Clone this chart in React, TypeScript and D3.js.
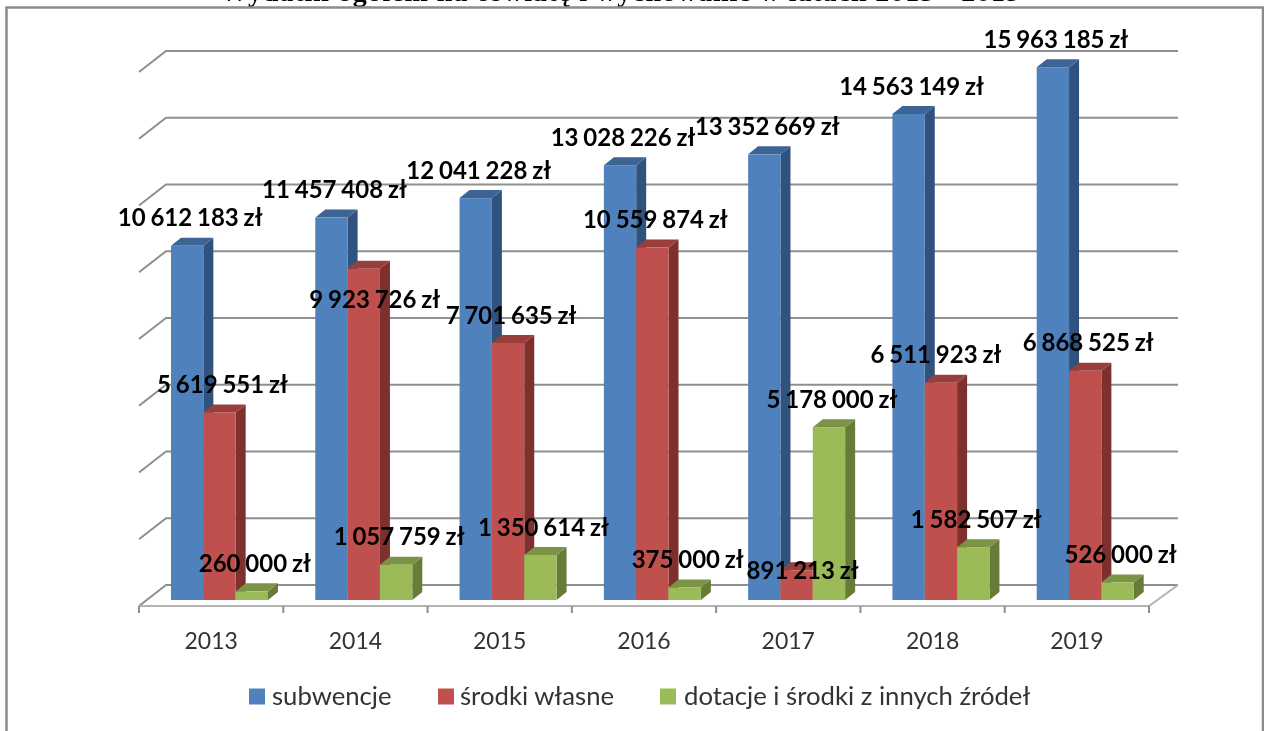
import React from "react"
import * as d3 from "d3"

const years = ["2013", "2014", "2015", "2016", "2017", "2018", "2019"]
const subwencje = [10612183, 11457408, 12041228, 13028226, 13352669, 14563149, 15963185]
const srodkiWlasne = [5619551, 9923726, 7701635, 10559874, 891213, 6511923, 6868525]
const dotacje = [260000, 1057759, 1350614, 375000, 5178000, 1582507, 526000]
const seriesNames = ["subwencje", "środki własne", "dotacje i środki z innych źródeł"]
const gridTicks = [0, 2000000, 4000000, 6000000, 8000000, 10000000, 12000000, 14000000, 16000000]

const colors = [
  { front: "#4f81bd", side: "#31527f", top: "#3c6595" },
  { front: "#c0504d", side: "#7d302e", top: "#983e3b" },
  { front: "#9bbb59", side: "#677c38", top: "#7a9444" },
]

const W = 1264
const H = 731
// the 3d look: how far the back of a bar sits from the front
const depthX = 10
const depthY = 8
const wallX = 27
const wallY = 21

const LABEL_FONT = "Lato, sans-serif"

// labels that were moved by hand in the original chart [dx, dy], key = year index - series index
const movedLabels: Record<string, [number, number]> = {
  "1-1": [11, 31],
  "4-1": [6, 0],
  "5-1": [-5, -28],
}

const money = d3.formatLocale({
  decimal: ",",
  thousands: " ",
  grouping: [3],
  currency: ["", " zł"],
}).format("$,d")

const xBand = d3.scaleBand<string>().domain(years).range([139, 1149])
const xBar = d3.scaleBand<number>().domain([0, 1, 2]).range([32, 129])
const yBar = d3.scaleLinear().domain([0, 16000000]).range([600, 66])
const yGrid = d3.scaleLinear().domain([0, 16000000]).range([585, 51])

const legendItems = [
  { square: 249, text: 272 },
  { square: 438, text: 460 },
  { square: 660, text: 684 },
]

function App() {
  const series = [subwencje, srodkiWlasne, dotacje]
  const bw = xBar.bandwidth()

  return (
    <svg
      width={W}
      height={H}
      style={{ position: "absolute", left: 0, top: 0, background: "#fff", filter: "blur(0.45px)" }}
    >
      {/* title, cut off by the top edge of the scan */}
      <text
        x={220}
        y={1}
        textLength={800}
        fontFamily="'Liberation Serif', serif"
        fontWeight="bold"
        fontSize={28}
        fill="#000"
      >
        Wydatki ogółem na oświatę i wychowanie w latach 2013 - 2019
      </text>

      <path d={`M6.5,${H} V7.5 H1263 V${H}`} fill="none" stroke="#8c8c8c" strokeWidth={2.5} />

      {/* grid */}
      {gridTicks.map((t) => (
        <path
          key={t}
          d={`M${139},${yGrid(t) + wallY} L${139 + wallX},${yGrid(t)} H1178`}
          fill="none"
          stroke="#8f8f8f"
          strokeWidth={2}
        />
      ))}

      {/* floor */}
      <path d={`M139,${yGrid(0) + wallY} H1149 L1178,${yGrid(0)}`} fill="none" stroke="#b3b3b3" strokeWidth={2} />
      {d3.range(years.length + 1).map((i) => {
        const x = 139 + i * xBand.step()
        return <line key={i} x1={x} x2={x} y1={606} y2={613} stroke="#8f8f8f" strokeWidth={2} />
      })}
      {years.map((y) => (
        <text
          key={y}
          x={xBand(y)! + xBand.bandwidth() / 2}
          y={649}
          textAnchor="middle"
          fontFamily={LABEL_FONT}
          fontSize={23}
          fill="#333"
        >
          {y}
        </text>
      ))}

      {/* bars */}
      {years.map((year, i) => (
        <g key={year}>
          {series.map((vals, s) => {
            const x0 = xBand(year)! + xBar(s)!
            const x1 = x0 + bw
            const top = yBar(vals[i])
            const c = colors[s]
            return (
              <g key={s}>
                <path
                  d={`M${x1},${top} l${depthX},${-depthY} V${600 - depthY} L${x1},600 Z`}
                  fill={c.side}
                />
                <path
                  d={`M${x0},${top} l${depthX},${-depthY} H${x1 + depthX} L${x1},${top} Z`}
                  fill={c.top}
                />
                <rect x={x0} y={top} width={bw} height={600 - top} fill={c.front} />
              </g>
            )
          })}
        </g>
      ))}

      {/* value labels go on top of everything */}
      {years.map((year, i) =>
        series.map((vals, s) => {
          const [dx, dy] = movedLabels[`${i}-${s}`] || [3, -28]
          return (
            <text
              key={`${year}-${s}`}
              x={xBand(year)! + xBar(s)! + bw / 2 + dx}
              y={yBar(vals[i]) + dy}
              dy="0.36em"
              textAnchor="middle"
              fontFamily={LABEL_FONT}
              fontWeight="bold"
              fontSize={24}
              wordSpacing={-1}
              fill="#000"
            >
              {money(vals[i])}
            </text>
          )
        })
      )}

      {/* legend */}
      {seriesNames.map((name, s) => (
        <g key={name}>
          <rect x={legendItems[s].square} y={688.5} width={16} height={16} fill={colors[s].front} />
          <text x={legendItems[s].text} y={705} fontFamily={LABEL_FONT} fontSize={25.7} fill="#333">
            {name}
          </text>
        </g>
      ))}
    </svg>
  )
}

export default App
